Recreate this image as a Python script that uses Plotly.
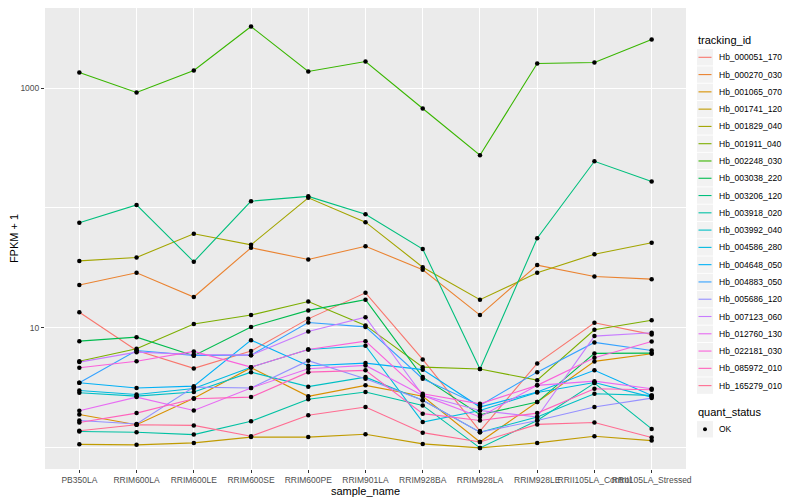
import plotly.graph_objects as go

samples = ["PB350LA", "RRIM600LA", "RRIM600LE", "RRIM600SE", "RRIM600PE", "RRIM901LA",
           "RRIM928BA", "RRIM928LA", "RRIM928LE", "RRII105LA_Control", "RRII105LA_Stressed"]

tracking_ids = ["Hb_000051_170", "Hb_000270_030", "Hb_001065_070", "Hb_001741_120", "Hb_001829_040",
                "Hb_001911_040", "Hb_002248_030", "Hb_003038_220", "Hb_003206_120", "Hb_003918_020",
                "Hb_003992_040", "Hb_004586_280", "Hb_004648_050", "Hb_004883_050", "Hb_005686_120",
                "Hb_007123_060", "Hb_012760_130", "Hb_022181_030", "Hb_085972_010", "Hb_165279_010"]

colors = ["#F8766D", "#EA8331", "#D89000", "#C09B00", "#A3A500", "#7CAE00", "#39B600", "#00BB4E",
          "#00BF7D", "#00C1A3", "#00BFC4", "#00BAE0", "#00B0F6", "#35A2FF", "#9590FF", "#C77CFF",
          "#E76BF3", "#FA62DB", "#FF62BC", "#FF6C91"]

# FPKM + 1 per tracking_id, in sample order
Hb_000051_170 = [13.5, 6.49, 4.60, 6.41, 11.9, 19.6, 5.46, 1.38, 5.06, 11.05, 8.83]
Hb_000270_030 = [22.8, 28.8, 18.1, 46.6, 37.2, 48.0, 30.5, 12.8, 33.4, 26.8, 25.5]
Hb_001065_070 = [1.90, 1.56, 2.59, 4.66, 2.69, 3.32, 2.69, 1.12, 2.41, 5.26, 6.10]
Hb_001741_120 = [1.07, 1.06, 1.10, 1.23, 1.23, 1.30, 1.08, 1.00, 1.10, 1.25, 1.15]
Hb_001829_040 = [36.2, 38.7, 61.0, 49.3, 121.6, 76.2, 32.1, 17.2, 28.8, 41.2, 51.3]
Hb_001911_040 = [5.28, 6.71, 10.8, 12.8, 16.6, 10.5, 4.71, 4.54, 3.67, 9.66, 11.6]
Hb_002248_030 = [1346, 917, 1400, 3254, 1372, 1663, 675, 275, 1600, 1631, 2535]
Hb_003038_220 = [7.76, 8.38, 5.86, 10.2, 14.0, 17.2, 3.89, 1.89, 2.41, 6.13, 6.17]
Hb_003206_120 = [75.3, 106, 35.6, 114, 125, 88.8, 45.4, 4.54, 56.0, 245, 166]
Hb_003918_020 = [1.37, 1.35, 1.29, 1.67, 2.54, 2.92, 2.26, 1.00, 1.69, 3.47, 1.44]
Hb_003992_040 = [2.88, 2.70, 2.92, 4.28, 3.24, 3.89, 2.49, 1.35, 1.81, 2.83, 2.74]
Hb_004586_280 = [3.01, 2.79, 3.13, 4.71, 6.62, 7.11, 1.64, 2.05, 2.90, 3.51, 2.65]
Hb_004648_050 = [3.49, 3.16, 3.27, 7.91, 4.84, 5.09, 4.49, 2.19, 2.92, 4.43, 2.74]
Hb_004883_050 = [3.49, 6.49, 5.90, 5.93, 11.1, 10.2, 3.77, 2.26, 4.28, 7.57, 6.49]
Hb_005686_120 = [1.69, 1.58, 3.21, 3.16, 5.33, 3.77, 2.49, 1.35, 1.69, 2.19, 2.60]
Hb_007123_060 = [5.19, 6.28, 6.01, 5.93, 9.35, 12.3, 2.74, 2.05, 1.81, 8.55, 9.12]
Hb_012760_130 = [2.04, 2.65, 2.05, 3.16, 4.57, 4.87, 2.74, 1.81, 3.32, 3.60, 3.11]
Hb_022181_030 = [4.66, 5.28, 6.37, 4.71, 6.62, 7.76, 2.83, 2.33, 3.32, 5.65, 7.72]
Hb_085972_010 = [1.63, 1.95, 2.57, 2.65, 4.28, 4.43, 1.93, 1.69, 1.95, 3.11, 3.05]
Hb_165279_010 = [1.39, 1.56, 1.54, 1.25, 1.87, 2.19, 1.34, 1.12, 1.57, 1.63, 1.22]

series = [Hb_000051_170, Hb_000270_030, Hb_001065_070, Hb_001741_120, Hb_001829_040,
          Hb_001911_040, Hb_002248_030, Hb_003038_220, Hb_003206_120, Hb_003918_020,
          Hb_003992_040, Hb_004586_280, Hb_004648_050, Hb_004883_050, Hb_005686_120,
          Hb_007123_060, Hb_012760_130, Hb_022181_030, Hb_085972_010, Hb_165279_010]

quant_status = "OK"

FONT = "Liberation Sans, Arial, sans-serif"
OFF = 8                      # page body margin in the browser
W, H = 792, 492
ML, MR, MT, MB = 37, 114, 0, 31
PW, PH = W - ML - MR, H - MT - MB


def px(xpage):
    return (xpage - OFF - ML) / PW


def py(ypage):
    return (H - MB - (ypage - OFF)) / PH


fig = go.Figure()
for name, vals, col in zip(tracking_ids, series, colors):
    fig.add_trace(go.Scatter(x=samples, y=vals, mode="lines", name=name,
                             line=dict(color=col, width=1.1), showlegend=False))

all_x, all_y = [], []
for vals in series:
    all_x += samples
    all_y += vals
fig.add_trace(go.Scatter(x=all_x, y=all_y, mode="markers", name=quant_status,
                         marker=dict(color="black", size=4.5, symbol="circle"),
                         showlegend=False))

# ggplot-style legend (keys drawn in paper space)
shapes, annotations = [], []
key_x0, key_x1 = 697, 713
text_x = 717
step = 17.28
first_y = 57.3
annotations.append(dict(text="tracking_id", x=px(696), y=py(40), xref="paper", yref="paper",
                        xanchor="left", yanchor="middle", showarrow=False,
                        font=dict(size=11, color="black", family=FONT)))
for i, (name, col) in enumerate(zip(tracking_ids, colors)):
    cy = first_y + i * step
    shapes.append(dict(type="rect", xref="paper", yref="paper",
                       x0=px(key_x0), x1=px(key_x1), y0=py(cy - 8.2), y1=py(cy + 8.2),
                       fillcolor="#F2F2F2", line=dict(width=0), layer="above"))
    shapes.append(dict(type="line", xref="paper", yref="paper",
                       x0=px(key_x0 + 1.5), x1=px(key_x1 - 1.5), y0=py(cy), y1=py(cy),
                       line=dict(color=col, width=1.1), layer="above"))
    annotations.append(dict(text=name, x=px(text_x), y=py(cy), xref="paper", yref="paper",
                            xanchor="left", yanchor="middle", showarrow=False,
                            font=dict(size=8.5, color="black", family=FONT)))

qs_title_y = 411.5
qs_item_y = 429.3
annotations.append(dict(text="quant_status", x=px(696), y=py(qs_title_y), xref="paper", yref="paper",
                        xanchor="left", yanchor="middle", showarrow=False,
                        font=dict(size=11, color="black", family=FONT)))
shapes.append(dict(type="rect", xref="paper", yref="paper",
                   x0=px(key_x0), x1=px(key_x1), y0=py(qs_item_y - 8.2), y1=py(qs_item_y + 8.2),
                   fillcolor="#F2F2F2", line=dict(width=0), layer="above"))
shapes.append(dict(type="circle", xref="paper", yref="paper",
                   x0=px(703), x1=px(707), y0=py(qs_item_y - 2), y1=py(qs_item_y + 2),
                   fillcolor="black", line=dict(width=0), layer="above"))
annotations.append(dict(text=quant_status, x=px(text_x), y=py(qs_item_y), xref="paper", yref="paper",
                        xanchor="left", yanchor="middle", showarrow=False,
                        font=dict(size=8.5, color="black", family=FONT)))

fig.update_layout(
    width=W, height=H,
    margin=dict(l=ML, r=MR, t=MT, b=MB),
    paper_bgcolor="white", plot_bgcolor="#EBEBEB",
    font=dict(family=FONT, color="black"),
    showlegend=False,
    shapes=shapes, annotations=annotations,
)

fig.update_xaxes(type="category", categoryorder="array", categoryarray=samples,
                 range=[-0.6, 10.6], showgrid=True, gridcolor="white", gridwidth=1.1,
                 zeroline=False, ticks="outside", ticklen=3, tickcolor="#333333",
                 tickangle=0, tickfont=dict(size=8.5, color="#4D4D4D"), showline=False,
                 title=dict(text="sample_name", font=dict(size=11, color="black"), standoff=2))

fig.update_yaxes(type="log", range=[-0.176, 3.667], tickvals=[10, 1000], ticktext=["10", "1000"],
                 showgrid=True, gridcolor="white", gridwidth=1.1, zeroline=False,
                 ticks="outside", ticklen=3, tickcolor="#333333",
                 tickfont=dict(size=8.5, color="#4D4D4D"), showline=False,
                 minor=dict(tickvals=[1, 100], showgrid=True, gridcolor="white", gridwidth=0.5, ticks=""),
                 title=dict(text="FPKM + 1", font=dict(size=11, color="black"), standoff=6))

fig.write_html("out.html")
